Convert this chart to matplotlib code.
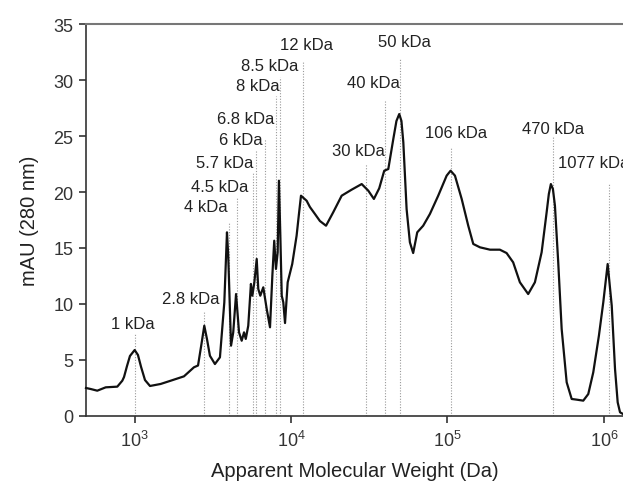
import numpy as np
import matplotlib
matplotlib.use("Agg")
import matplotlib.pyplot as plt
from matplotlib.ticker import LogLocator, NullLocator

plt.rcParams['font.family'] = ['Liberation Sans', 'DejaVu Sans']
plt.rcParams['mathtext.fontset'] = 'custom'
plt.rcParams['mathtext.rm'] = 'Liberation Sans'
plt.rcParams['mathtext.default'] = 'regular'

# SEC trace: log10 of apparent molecular weight (Da) and absorbance (mAU)
log_mw = [2.690, 2.720, 2.762, 2.816, 2.890, 2.922, 2.933, 2.952, 2.971, 3.001,
          3.022, 3.042, 3.067, 3.099, 3.167, 3.231, 3.316, 3.380, 3.406, 3.428,
          3.446, 3.463, 3.482, 3.514, 3.546, 3.574, 3.591, 3.599, 3.617, 3.631,
          3.649, 3.668, 3.685, 3.700, 3.711, 3.727, 3.744, 3.753, 3.766, 3.781,
          3.791, 3.804, 3.823, 3.845, 3.866, 3.881, 3.893, 3.904, 3.915, 3.923,
          3.932, 3.941, 3.951, 3.962, 3.979, 4.008, 4.036, 4.051, 4.064, 4.100,
          4.121, 4.153, 4.185, 4.224, 4.270, 4.324, 4.388, 4.452, 4.494, 4.530,
          4.564, 4.596, 4.622, 4.654, 4.674, 4.692, 4.706, 4.718, 4.739, 4.760,
          4.781, 4.807, 4.845, 4.888, 4.941, 4.995, 5.020, 5.048, 5.091, 5.133,
          5.165, 5.208, 5.272, 5.335, 5.378, 5.420, 5.463, 5.516, 5.559, 5.602,
          5.634, 5.648, 5.661, 5.674, 5.687, 5.708, 5.730, 5.762, 5.794, 5.826,
          5.868, 5.900, 5.932, 5.968, 5.996, 6.024, 6.050, 6.071, 6.088, 6.103,
          6.122]
mau = [2.50, 2.41, 2.26, 2.56, 2.62, 3.15, 3.48, 4.46, 5.36, 5.89,
       5.45, 4.38, 3.21, 2.68, 2.86, 3.15, 3.54, 4.35, 4.51, 6.43,
       8.06, 6.88, 5.38, 4.64, 5.24, 10.15, 16.40, 14.31, 6.28, 7.47,
       10.89, 7.47, 6.72, 7.47, 6.88, 8.06, 11.79, 10.74, 11.94, 14.02,
       11.34, 10.74, 11.49, 9.55, 7.92, 12.53, 15.65, 13.13, 14.62, 21.01,
       16.10, 10.74, 10.15, 8.30, 11.94, 13.57, 16.10, 18.04, 19.67, 19.22,
       18.66, 18.04, 17.41, 16.99, 18.19, 19.67, 20.21, 20.71, 20.12, 19.38,
       20.33, 21.90, 22.05, 24.73, 26.34, 26.96, 26.34, 24.44, 18.48, 15.51,
       14.55, 16.40, 16.99, 18.04, 19.67, 21.46, 21.90, 21.46, 19.38, 16.99,
       15.36, 15.06, 14.85, 14.85, 14.55, 13.72, 11.94, 10.89, 11.94, 14.62,
       18.19, 19.82, 20.71, 20.27, 18.78, 13.72, 7.77, 3.01, 1.52, 1.46,
       1.37, 1.96, 3.90, 7.17, 10.15, 13.57, 9.85, 4.20, 1.22, 0.33,
       0.18]

# marker proteins / peaks
marker_labels = ["1 kDa", "2.8 kDa", "4 kDa", "4.5 kDa", "5.7 kDa", "6 kDa",
                 "6.8 kDa", "8 kDa", "8.5 kDa", "12 kDa", "30 kDa", "40 kDa",
                 "50 kDa", "106 kDa", "470 kDa", "1077 kDa"]
marker_mw = [1000, 2800, 4000, 4500, 5700, 6000, 6800, 8000, 8500, 12000,
             30000, 40000, 50000, 106000, 470000, 1077000]
line_top = [7.3, 9.3, 17.3, 19.5, 21.8, 23.7, 24.7, 28.6, 30.3, 31.7,
            22.5, 28.1, 31.9, 24.0, 24.9, 20.7]
label_y = [8.3, 10.5, 18.7, 20.5, 22.6, 24.7, 26.6, 29.5, 31.3, 33.2,
           23.7, 29.8, 33.4, 25.3, 25.7, 22.6]
label_logx = [2.99, 3.361, 3.457, 3.543, 3.575, 3.680, 3.712, 3.786, 3.863,
              4.102, 4.431, 4.527, 4.725, 5.057, 5.674, 5.706]

fig = plt.figure(figsize=(6.23, 4.89), dpi=100)
ax = fig.add_axes([86 / 623, 1 - 417 / 489, 1 - 86 / 623, (417 - 25) / 489])

mw = 10 ** np.array(log_mw)
ax.plot(mw, mau, color='#111111', lw=1.6, zorder=3, clip_on=False,
        solid_joinstyle='round')

for i, m in enumerate(marker_mw):
    ax.plot([m, m], [0, line_top[i]], color='#999999', lw=0.8,
            linestyle=(0, (1, 1.5)), zorder=2)
    if marker_labels[i] == "1077 kDa":
        ax.text(10 ** label_logx[i], label_y[i], marker_labels[i], ha='left',
                va='center', fontsize=12, color='#222222', clip_on=True)
    else:
        ax.text(10 ** label_logx[i], label_y[i], marker_labels[i], ha='center',
                va='center', fontsize=12, color='#222222')

ax.set_xscale('log')
ax.set_xlim(10 ** 2.690, 10 ** 6.122)
ax.set_ylim(0, 35)
ax.set_yticks(range(0, 36, 5))
ax.xaxis.set_major_locator(LogLocator(base=10))
ax.xaxis.set_minor_locator(NullLocator())

ax.spines['right'].set_visible(False)
ax.spines['top'].set_color('#777777')
ax.spines['top'].set_linewidth(1.5)
for s in ['left', 'bottom']:
    ax.spines[s].set_linewidth(1.2)
    ax.spines[s].set_color('#333333')
ax.tick_params(direction='out', length=5, width=1.2, labelsize=13,
               colors='#333333', pad=4)
ax.tick_params(axis='x', pad=5)

ax.set_xlabel("Apparent Molecular Weight (Da)", fontsize=14.5, color='#222222',
              labelpad=8)
ax.set_ylabel("mAU (280 nm)", fontsize=14.5, color='#222222', labelpad=10)

fig.savefig("out.png", dpi=100)
